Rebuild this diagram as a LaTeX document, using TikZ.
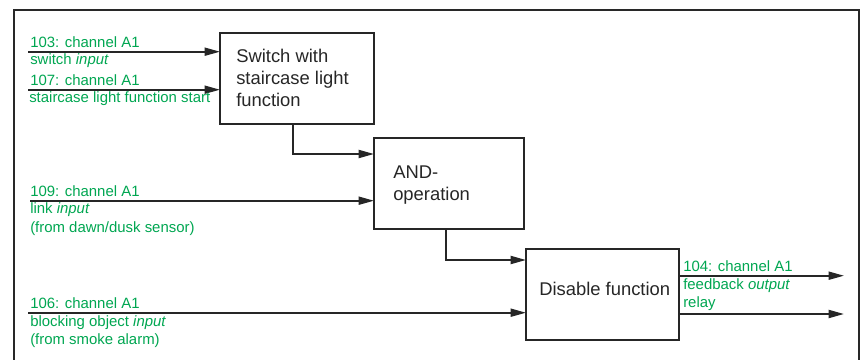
\documentclass[tikz,border=0pt]{standalone}
\usepackage{fontspec}
\setmainfont{Liberation Sans}
\usetikzlibrary{arrows.meta}
\definecolor{lblgreen}{RGB}{0,166,81}
\definecolor{frameg}{RGB}{40,40,40}
\begin{document}
\begin{tikzpicture}[x=0.75pt,y=-0.75pt,
  fbox/.style={draw=black!85,line width=1.1pt},
  btxt/.style={anchor=base west,inner sep=0pt,font=\fontsize{13.8}{16}\selectfont,text=black!85},
  gtxt/.style={anchor=base west,inner sep=0pt,font=\fontsize{11.2}{13}\selectfont,text=lblgreen},
  conn/.style={draw=black!85,line width=1.4pt,-{Triangle[length=11.5pt,width=6pt]}},
  wire/.style={draw=black!85,line width=1.4pt}]
\useasboundingbox (0,0) rectangle (865,360);
% frame
\draw[frameg,line width=1.2pt] (14,365) -- (14,10) -- (859,10) -- (859,365);
% boxes
\draw[fbox] (220,33) rectangle (374,124);
\coordinate (b1s) at (293,124);
\draw[fbox] (374,138) rectangle (524,229);
\coordinate (b2s) at (446,229);
\draw[fbox] (526,249) rectangle (679,340);
% box texts
\node[btxt] (t1a) at (236,63) {Switch with};
\node[btxt] (t1b) at (236,85) {staircase light};
\node[btxt] (t1c) at (236,107) {function};
\node[btxt] (t2a) at (393,179) {AND-};
\node[btxt] (t2b) at (393,200.5) {operation};
\node[btxt] (t3) at (539,295) {Disable function};
% input coordinates
\coordinate (i103) at (28,51.7);
\coordinate (e103) at (220,51.7);
\coordinate (i107) at (28,89.7);
\coordinate (e107) at (220,89.7);
\coordinate (i109) at (30,200.7);
\coordinate (e109) at (374,200.7);
\coordinate (i106) at (28,312.7);
\coordinate (e106) at (526,312.7);
\coordinate (c12) at (293,154);
\coordinate (e12) at (374,154);
\coordinate (c23) at (446,260);
\coordinate (e23) at (526,260);
\coordinate (o1s) at (679,275.7);
\coordinate (o1e) at (844,275.7);
\coordinate (o2s) at (679,314);
\coordinate (o2e) at (844,314);
% connectors
\draw[conn] (i103) -- (e103);
\draw[conn] (i107) -- (e107);
\draw[conn] (i109) -- (e109);
\draw[conn] (i106) -- (e106);
\draw[conn] (b1s) -- (c12) -- (e12);
\draw[conn] (b2s) -- (c23) -- (e23);
\draw[conn] (o1s) -- (o1e);
\draw[conn] (o2s) -- (o2e);
% green labels
\node[gtxt] (l103a) at (30,47.3) {103: channel A1};
\node[gtxt] (l103b) at (30,65) {switch \textit{input}};
\node[gtxt] (l107a) at (30,85.3) {107: channel A1};
\node[gtxt] (l107b) at (29,103) {staircase light function start};
\node[gtxt] (l109a) at (30,196.5) {109: channel A1};
\node[gtxt] (l109b) at (30,214) {link \textit{input}};
\node[gtxt] (l109c) at (30,232) {(from dawn/dusk sensor)};
\node[gtxt] (l106a) at (30,308.5) {106: channel A1};
\node[gtxt] (l106b) at (30,326) {blocking object \textit{input}};
\node[gtxt] (l106c) at (30,344) {(from smoke alarm)};
\node[gtxt] (l104a) at (683,271.5) {104: channel A1};
\node[gtxt] (l104b) at (683,289.3) {feedback \textit{output}};
\node[gtxt] (l104c) at (683,307.5) {relay};
\end{tikzpicture}
\end{document}
